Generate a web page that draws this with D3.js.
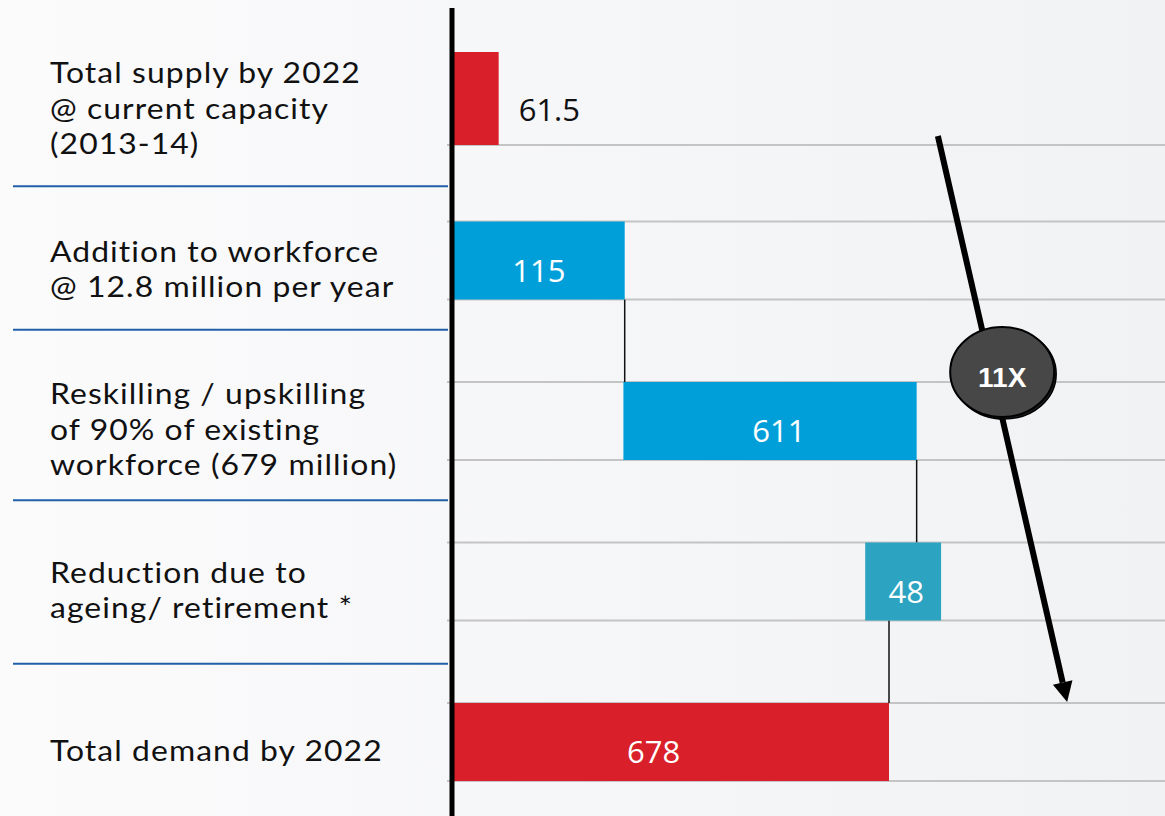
<!DOCTYPE html>
<html>
<head>
<meta charset="utf-8">
<script src="https://cdn.jsdelivr.net/npm/d3@7"></script>
<style>
  html, body { margin: 0; padding: 0; overflow: hidden; background: #f5f6f8; }
  svg { display: block; }
</style>
</head>
<body>
<svg id="chart"></svg>
<script>
// rows of the waterfall, top to bottom
const categories = ['supply', 'addition', 'reskilling', 'reduction', 'demand'];
const labelLines = [
  ['Total supply by 2022', '@ current capacity', '(2013-14)'],
  ['Addition to workforce', '@ 12.8 million per year'],
  ['Reskilling / upskilling', 'of 90% of existing', 'workforce (679 million)'],
  ['Reduction due to', 'ageing/ retirement *'],
  ['Total demand by 2022']
];
// values printed on the bars (million)
const values = [61.5, 115, 611, 48, 678];
// drawn extent of each bar (the original is schematic)
const barStart = [0, 0, 265, 641, 0];
const barEnd = [71, 267, 721, 759, 678];
const barKind = ['total', 'increase', 'increase', 'decrease', 'total'];
const multiple = '11X';

const WIDTH = 1165, HEIGHT = 816;
const colors = { total: '#d91f2a', increase: '#009fda', decrease: '#2ba3c1' };

const svg = d3.select('#chart')
    .attr('width', WIDTH)
    .attr('height', HEIGHT)
    .attr('viewBox', [0, 0, WIDTH, HEIGHT]);

// background
const grad = svg.append('defs').append('linearGradient')
    .attr('id', 'bg').attr('x1', 0).attr('x2', 1).attr('y1', 0).attr('y2', 0);
grad.append('stop').attr('offset', '0%').attr('stop-color', '#fbfbfc');
grad.append('stop').attr('offset', '100%').attr('stop-color', '#f1f2f4');
svg.append('rect').attr('width', WIDTH).attr('height', HEIGHT).attr('fill', 'url(#bg)');

const x = d3.scaleLinear()
    .domain([0, 678])
    .range([453, 889]);

const y = d3.scalePoint()
    .domain(categories)
    .range([100, 742]);

const half = 39;
const rowTop = (c, i) => i === 0 ? y(c) - 48 : y(c) - half;
const rowBottom = (c, i) => i === 0 ? y(c) + 45 : y(c) + half;

// gridlines at top & bottom of every row (first row only has a bottom one)
const gridYs = [];
categories.forEach((c, i) => {
  if (i > 0) gridYs.push(rowTop(c, i));
  gridYs.push(rowBottom(c, i));
});
svg.append('g')
    .selectAll('line')
    .data(gridYs)
    .join('line')
    .attr('x1', 447).attr('x2', WIDTH)
    .attr('y1', d => d).attr('y2', d => d)
    .attr('stroke', '#c4c4c4')
    .attr('stroke-width', 2);

// blue separators between the left labels
const sepShift = [6, -11, -1, 2];
const seps = d3.pairs(categories).map(([a, b], i) => (y(a) + y(b)) / 2 + sepShift[i]);
svg.append('g')
    .selectAll('line')
    .data(seps)
    .join('line')
    .attr('x1', 13).attr('x2', 448)
    .attr('y1', d => d).attr('y2', d => d)
    .attr('stroke', '#2160a8')
    .attr('stroke-width', 2);

// left labels, one text per line
const lineH = 35.5;
const labelRows = categories.flatMap((c, i) => labelLines[i].map((t, j) => ({
  text: t,
  y: y(c) + 19 + (j - (labelLines[i].length - 1) / 2) * lineH
})));
svg.append('g')
    .attr('transform', 'translate(50,0) scale(1.08,1)')
    .selectAll('text')
    .data(labelRows)
    .join('text')
    .attr('font-family', "Lato, 'Open Sans', sans-serif")
    .attr('font-size', 29.5)
    .attr('letter-spacing', 1)
    .attr('fill', '#111')
    .attr('x', 0)
    .attr('y', d => d.y)
    .text(d => d.text);

// connectors between bars
const connectors = d3.pairs(d3.range(categories.length)).slice(1).map(([i, j]) => ({
  x: barKind[j] === 'total' ? barEnd[j] : barEnd[i],
  y1: rowBottom(categories[i], i),
  y2: rowTop(categories[j], j)
}));
svg.append('g')
    .selectAll('line')
    .data(connectors)
    .join('line')
    .attr('x1', d => x(d.x)).attr('x2', d => x(d.x))
    .attr('y1', d => d.y1).attr('y2', d => d.y2)
    .attr('stroke', '#111')
    .attr('stroke-width', 1.5);

// bars
svg.append('g')
    .selectAll('rect')
    .data(categories)
    .join('rect')
    .attr('x', (c, i) => x(barStart[i]))
    .attr('width', (c, i) => x(barEnd[i]) - x(barStart[i]))
    .attr('y', (c, i) => rowTop(c, i))
    .attr('height', (c, i) => rowBottom(c, i) - rowTop(c, i))
    .attr('fill', (c, i) => colors[barKind[i]]);

// value labels
const labelPos = [null, 0.5, 0.53, 0.54, 0.46];
svg.append('g')
    .selectAll('text')
    .data(categories)
    .join('text')
    .attr('font-family', "'Open Sans', 'Noto Sans', sans-serif")
    .attr('font-size', 31)
    .attr('x', (c, i) => i === 0 ? x(barEnd[i]) + 20
        : x(barStart[i]) + (x(barEnd[i]) - x(barStart[i])) * labelPos[i])
    .attr('y', (c, i) => y(c) + 21)
    .attr('text-anchor', (c, i) => i === 0 ? 'start' : 'middle')
    .attr('fill', (c, i) => i === 0 ? '#111' : '#fff')
    .text((c, i) => values[i]);

// vertical axis line
svg.append('line')
    .attr('x1', 452).attr('x2', 452)
    .attr('y1', 8).attr('y2', HEIGHT)
    .attr('stroke', '#000')
    .attr('stroke-width', 5);

// 11X arrow
const a0 = [x(754), y('supply') + 36];
const a1 = [x(955), rowTop('demand', 4) - 1];
const ang = Math.atan2(a1[1] - a0[1], a1[0] - a0[0]);
const headL = 20, headW = 10;
const base = [a1[0] - headL * Math.cos(ang), a1[1] - headL * Math.sin(ang)];
svg.append('line')
    .attr('x1', a0[0]).attr('y1', a0[1])
    .attr('x2', base[0]).attr('y2', base[1])
    .attr('stroke', '#000')
    .attr('stroke-width', 6);
svg.append('polygon')
    .attr('points', [
      a1,
      [base[0] + headW * Math.sin(ang), base[1] - headW * Math.cos(ang)],
      [base[0] - headW * Math.sin(ang), base[1] + headW * Math.cos(ang)]
    ].map(p => p.join(',')).join(' '))
    .attr('fill', '#000');

const cx = x(854), cy = y('reskilling') - 49;
svg.append('ellipse')
    .attr('cx', cx + 2).attr('cy', cy + 2).attr('rx', 52).attr('ry', 45)
    .attr('fill', '#222').attr('stroke', '#000').attr('stroke-width', 1.5);
svg.append('ellipse')
    .attr('cx', cx).attr('cy', cy).attr('rx', 52).attr('ry', 45)
    .attr('fill', '#474747').attr('stroke', '#000').attr('stroke-width', 2);
svg.append('text')
    .attr('x', cx).attr('y', cy + 15)
    .attr('text-anchor', 'middle')
    .attr('font-family', "'Liberation Sans', Arial, sans-serif")
    .attr('font-weight', 'bold')
    .attr('font-size', 28)
    .attr('fill', '#fff')
    .text(multiple);
</script>
</body>
</html>
